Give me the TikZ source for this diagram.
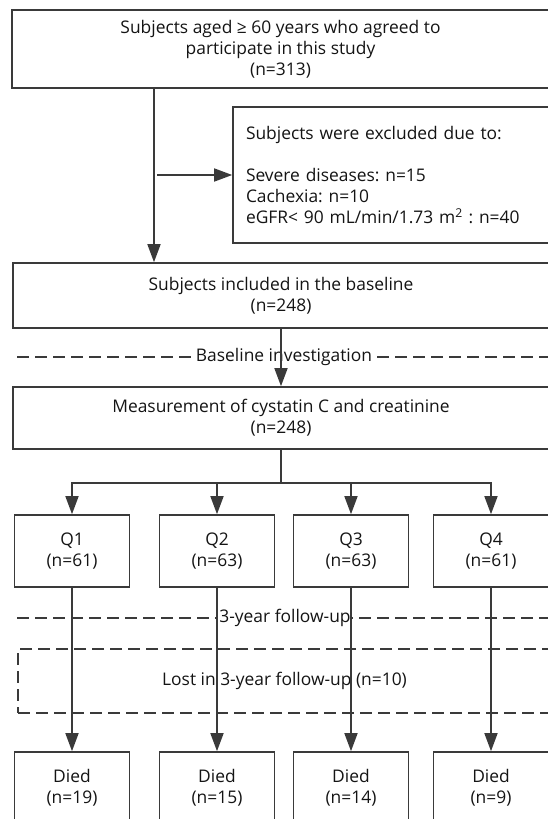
\documentclass[tikz,border=0pt]{standalone}
\usepackage{fontspec}
\setmainfont{Open Sans}
\usetikzlibrary{arrows.meta, positioning}
\frenchspacing

\begin{document}
\begin{tikzpicture}[x=1pt,y=-1pt,line width=1.6pt]
 \definecolor{ink}{HTML}{3A3A3A}
 \tikzstyle{flowbox}=[rectangle,draw=ink,text=black!92,align=center,
   inner sep=0pt,font=\fontsize{17.4}{21}\selectfont]
 \tikzstyle{qbox}=[flowbox,minimum width=115pt,minimum height=72pt]
 \tikzstyle{phase}=[draw=ink,dash pattern=on 12pt off 6pt]
 \tikzstyle{phaselabel}=[fill=white,text=black!92,inner xsep=1pt,
   font=\fontsize{17.4}{21}\selectfont]
 \tikzstyle{arr}=[draw=ink,-{Triangle[length=18pt,width=13pt]}]
 \useasboundingbox (0,0) rectangle (548,819);
 \node (study) [flowbox,minimum width=537pt,minimum height=78pt] at (280.5,49)
   {Subjects aged ≥ 60 years who agreed to\\participate in this study\\(n=313)};
 \node (excl) [flowbox,align=left,text width=290pt,inner xsep=13pt,
   minimum width=316pt,minimum height=136pt] at (391,175)
   {Subjects were excluded due to:\\[21pt]
    Severe diseases: n=15\\Cachexia: n=10\\
    eGFR< 90 mL/min/1.73 m\textsuperscript{2} : n=40};
 \node (base) [flowbox,minimum width=536pt,minimum height=65pt] at (281,295.5)
   {Subjects included in the baseline\\(n=248)};
 \draw[phase] (17,357) -- (549,357);
 \node (baseline) [phaselabel] at (284,357) {Baseline investigation};
 \node (meas) [flowbox,minimum width=536pt,minimum height=62pt] at (281,418)
   {Measurement of cystatin C and creatinine\\(n=248)};
 \foreach \i/\x/\n/\d in {1/72/61/19,2/217/63/15,3/351/63/14,4/491/61/9} {
   \node (q\i) [qbox] at (\x,551) {Q\i\\(n=\n)};
   \node (died\i) [qbox] at (\x,788) {Died\\(n=\d)};
 }
 \draw[phase] (17,618) -- (549,618);
 \node (followup) [phaselabel] at (285,618) {3-year follow-up};
 \node (lost) [flowbox,phase,minimum width=533pt,minimum height=64pt] at (284.5,681)
   {Lost in 3-year follow-up (n=10)};
 \coordinate (trunk) at (154,0);
 \draw[arr] (study.south -| trunk) -- (base.north -| trunk);
 \draw[arr] ([xshift=3pt]excl.west -| trunk) -- (excl.west);
 \draw[arr] (base) -- (meas);
 \draw[draw=ink] (meas.south) -- ++(0,33) coordinate (split);
 \foreach \i in {1,...,4}
   \draw[arr] (split) -| (q\i.north);
 \foreach \i in {1,...,4}
   \draw[arr] (q\i) -- (died\i);
\end{tikzpicture}
\end{document}
